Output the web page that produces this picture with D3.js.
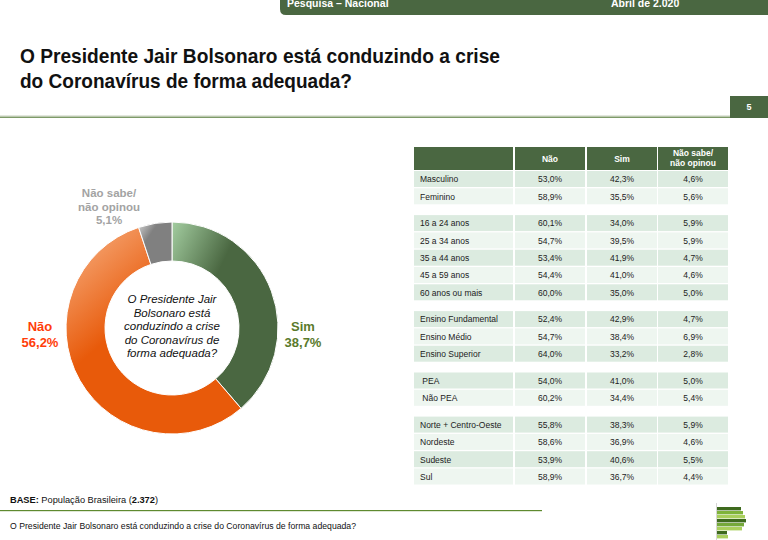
<!DOCTYPE html>
<html><head><meta charset="utf-8">
<script src="https://cdn.jsdelivr.net/npm/d3@7"></script>
<style>body{margin:0;background:#fff;}svg{display:block;font-family:Arial,"Liberation Sans",sans-serif;}</style>
</head><body>
<svg id="c" width="768" height="540"></svg>
<script>
// ---- data ----
const donutCategories = ["Sim", "Não", "Não sabe/não opinou"];
const donutValues = [38.7, 56.2, 5.1];
const donutLabelText = ["38,7%", "56,2%", "5,1%"];

const tableColumns = ["Não", "Sim", "Não sabe/\nnão opinou"];
const rowGroups = [0,0,1,1,1,1,1,2,2,2,3,3,4,4,4,4];
const rowLabels = ["Masculino","Feminino","16 a 24 anos","25 a 34 anos","35 a 44 anos","45 a 59 anos","60 anos ou mais",
  "Ensino Fundamental","Ensino Médio","Ensino Superior"," PEA"," Não PEA","Norte + Centro-Oeste","Nordeste","Sudeste","Sul"];
const naoValues  = [53.0,58.9,60.1,54.7,53.4,54.4,60.0,52.4,54.7,64.0,54.0,60.2,55.8,58.6,53.9,58.9];
const simValues  = [42.3,35.5,34.0,39.5,41.9,41.0,35.0,42.9,38.4,33.2,41.0,34.4,38.3,36.9,40.6,36.7];
const nsnoValues = [4.6,5.6,5.9,5.9,4.7,4.6,5.0,4.7,6.9,2.8,5.0,5.4,5.9,4.6,5.5,4.4];

const svg = d3.select("#c");
const defs = svg.append("defs");
const fmt = v => d3.format(".1f")(v).replace(".", ",") + "%";

// ---- header bar ----
svg.append("path").attr("d", "M280,0 H768 V15 H286 Q280,15 280,9 Z").attr("fill", "#4a6741");
svg.append("text").attr("x", 287).attr("y", 7).attr("fill", "#fff").attr("font-size", 10.5).attr("font-weight", "bold").text("Pesquisa – Nacional");
svg.append("text").attr("x", 611).attr("y", 7).attr("fill", "#fff").attr("font-size", 10.5).attr("font-weight", "bold").text("Abril de 2.020");

// ---- title ----
const title = svg.append("text").attr("font-size", 20.5).attr("font-weight", "bold").attr("fill", "#111");
title.append("tspan").attr("x", 20).attr("y", 63).attr("textLength", 480).attr("lengthAdjust", "spacingAndGlyphs").text("O Presidente Jair Bolsonaro está conduzindo a crise");
title.append("tspan").attr("x", 20).attr("y", 88).attr("textLength", 332).attr("lengthAdjust", "spacingAndGlyphs").text("do Coronavírus de forma adequada?");

// rule + page number
svg.append("rect").attr("x", 0).attr("y", 115.5).attr("width", 730).attr("height", 1.2).attr("fill", "#c5d0bb");
svg.append("rect").attr("x", 0).attr("y", 116.7).attr("width", 730).attr("height", 1.3).attr("fill", "#7e9a68");
svg.append("rect").attr("x", 730).attr("y", 96).attr("width", 38).attr("height", 22).attr("fill", "#4a6741");
svg.append("text").attr("x", 749).attr("y", 110).attr("text-anchor", "middle").attr("fill", "#fff").attr("font-size", 9).attr("font-weight", "bold").text("5");

// ---- donut ----
const gradStops = [
  [["0", "#a3cda0"], ["0.55", "#4a6741"]],
  [["0", "#f8b589"], ["0.62", "#e85a0a"]],
  [["0", "#d2d2d2"], ["0.5", "#808080"]]
];
gradStops.forEach((s, i) => {
  const g = defs.append("linearGradient").attr("id", "g" + i).attr("x1", 0).attr("y1", 0).attr("x2", i === 1 ? 0.55 : 0.7).attr("y2", i === 1 ? 0.75 : 0.6);
  s.forEach(st => g.append("stop").attr("offset", st[0]).attr("stop-color", st[1]));
});
const cx = 172, cy = 328;
const pie = d3.pie().sort(null).value(d => d);
const arc = d3.arc().innerRadius(67).outerRadius(106);
const dg = svg.append("g").attr("transform", `translate(${cx},${cy})`);
dg.selectAll("path").data(pie(donutValues)).join("path")
  .attr("d", arc).attr("fill", (d, i) => `url(#g${i})`).attr("stroke", "#fff").attr("stroke-width", 1);

// donut labels
const labelSpec = [
  {x: 303, y: [331, 347], lines: ["Sim", donutLabelText[0]], color: "#5a7a2c", size: 13},
  {x: 40, y: [331, 347], lines: ["Não", donutLabelText[1]], color: "#ff3d0a", size: 13},
  {x: 109, y: [197, 211, 224], lines: ["Não sabe/", "não opinou", donutLabelText[2]], color: "#a3a3a3", size: 11.5}
];
labelSpec.forEach(l => {
  const t = svg.append("text").attr("text-anchor", "middle").attr("font-weight", "bold").attr("font-size", l.size).attr("fill", l.color);
  l.lines.forEach((ln, j) => t.append("tspan").attr("x", l.x).attr("y", l.y[j]).text(ln));
});

// center text
const centerLines = ["O Presidente Jair", "Bolsonaro está", "conduzindo a crise", "do Coronavírus de", "forma adequada?"];
const ct = svg.append("text").attr("text-anchor", "middle").attr("font-style", "italic").attr("font-size", 11.5).attr("fill", "#111");
centerLines.forEach((ln, j) => ct.append("tspan").attr("x", cx).attr("y", 303 + j * 13.5).text(ln));

// ---- table ----
const colX = [414, 515, 587, 658];
const colW = [99, 70, 70, 70];
const headerY = 147, headerH = 23;
const rowTop = 171, pitch = 17.3, gap = 9.5, rowH = 16;
const tg = svg.append("g");
colX.forEach((x, i) => tg.append("rect").attr("x", x).attr("y", headerY).attr("width", colW[i]).attr("height", headerH).attr("fill", "#4a6741"));
tableColumns.forEach((c, i) => {
  const lines = c.split("\n");
  const t = tg.append("text").attr("text-anchor", "middle").attr("fill", "#fff").attr("font-weight", "bold").attr("font-size", 8.5);
  const x = colX[i + 1] + colW[i + 1] / 2;
  if (lines.length === 1) t.append("tspan").attr("x", x).attr("y", 162).text(lines[0]);
  else lines.forEach((ln, j) => t.append("tspan").attr("x", x).attr("y", 156 + j * 10).text(ln));
});
const y = i => rowTop + i * pitch + rowGroups[i] * gap;
let parity = 0;
rowLabels.forEach((lab, i) => {
  if (i > 0 && rowGroups[i] !== rowGroups[i - 1]) parity = 0;
  const fill = parity % 2 === 0 ? "#dcebe0" : "#eef6f0";
  parity++;
  colX.forEach((x, k) => tg.append("rect").attr("x", x).attr("y", y(i)).attr("width", colW[k]).attr("height", rowH).attr("fill", fill));
  tg.append("text").attr("x", 420).attr("y", y(i) + 11.3).attr("font-size", 8.5).attr("fill", "#222").attr("xml:space", "preserve").text(lab);
  [naoValues[i], simValues[i], nsnoValues[i]].forEach((v, k) => {
    tg.append("text").attr("x", colX[k + 1] + colW[k + 1] / 2).attr("y", y(i) + 11.3).attr("text-anchor", "middle").attr("font-size", 8.5).attr("fill", "#222").text(fmt(v));
  });
});

// ---- footer ----
const base = svg.append("text").attr("x", 10).attr("y", 503).attr("font-size", 8.5).attr("fill", "#111")
  .attr("textLength", 148).attr("lengthAdjust", "spacingAndGlyphs");
base.append("tspan").attr("font-weight", "bold").text("BASE:");
base.append("tspan").text(" População Brasileira (");
base.append("tspan").attr("font-weight", "bold").text("2.372");
base.append("tspan").text(")");
svg.append("rect").attr("x", 0).attr("y", 510).attr("width", 542).attr("height", 1.2).attr("fill", "#5e8a2f");
svg.append("text").attr("x", 10).attr("y", 529).attr("font-size", 8.5).attr("fill", "#111")
  .attr("textLength", 346).attr("lengthAdjust", "spacingAndGlyphs")
  .text("O Presidente Jair Bolsonaro está conduzindo a crise do Coronavírus de forma adequada?");

// logo
svg.append("rect").attr("x", 716).attr("y", 503).attr("width", 0.8).attr("height", 37).attr("fill", "#ccc");
const stripeW = [24, 26, 28, 29, 27, 25, 10, 11];
const stripeC = ["#3e6a1e", "#7fb33a", "#a9cf5c", "#3e6a1e", "#74a83a", "#a9cf5c", "#3e6a1e", "#a9cf5c"];
stripeW.forEach((w, i) => svg.append("rect").attr("x", 717).attr("y", 507 + i * 4).attr("width", w).attr("height", 3.4).attr("fill", stripeC[i]));
</script>
</body></html>
